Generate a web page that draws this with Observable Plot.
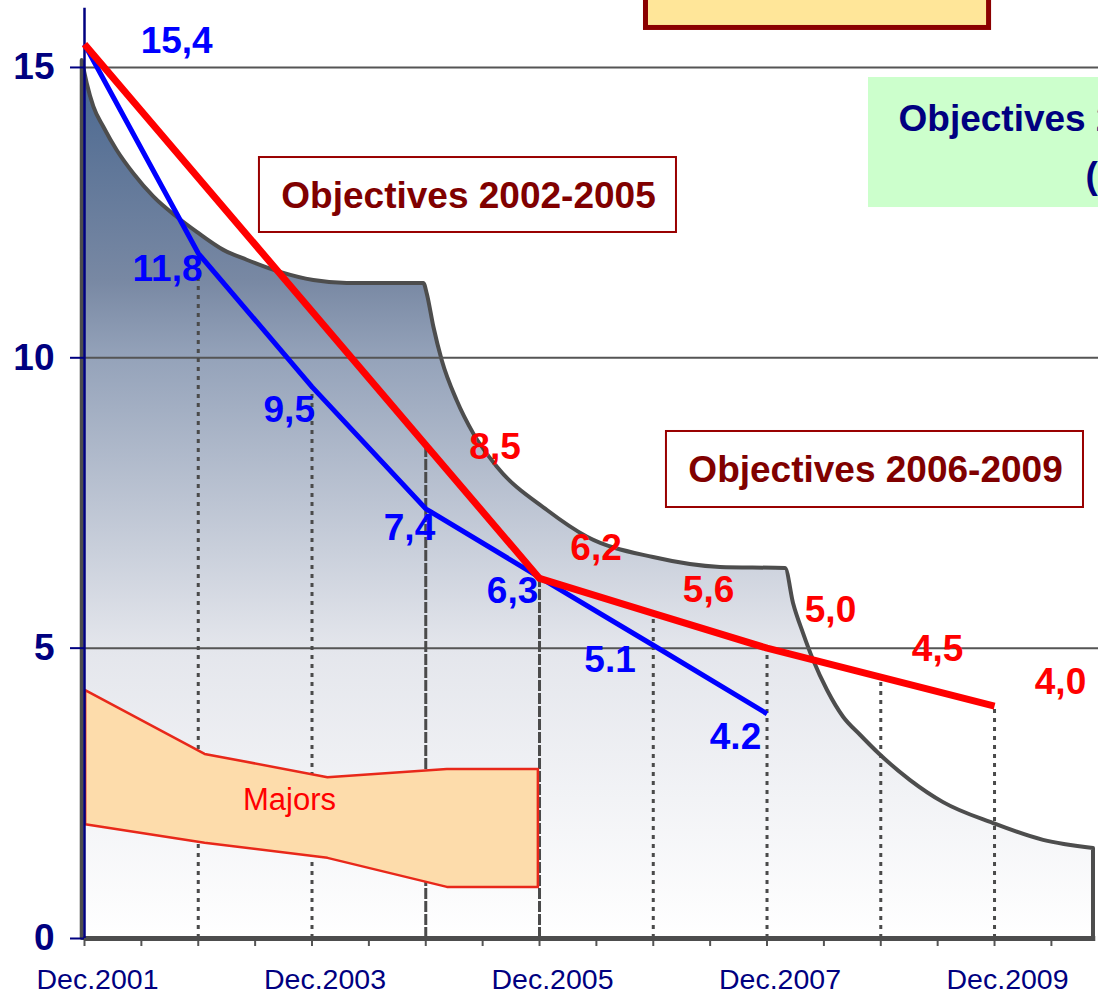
<!DOCTYPE html>
<html><head><meta charset="utf-8">
<script src="https://cdn.jsdelivr.net/npm/d3@7"></script>
<script src="https://cdn.jsdelivr.net/npm/@observablehq/plot@0.6"></script>
<style>
html,body{margin:0;padding:0;background:#fff;overflow:hidden;}
#chart svg{overflow:hidden;display:block}
</style></head><body><div id="chart"></div>
<script>
// x = years elapsed since Dec.2001
const tickYears = [0, 2, 4, 6, 8];
const tickLabels = ["Dec.2001", "Dec.2003", "Dec.2005", "Dec.2007", "Dec.2009"];
const halfYearTicks = [0,0.5,1,1.5,2,2.5,3,3.5,4,4.5,5,5.5,6,6.5,7,7.5,8,8.5];
const yTicks = [0, 5, 10, 15];

// actual (blue)
const actualX = [0, 1, 2, 3, 4, 5, 6];
const actualValues = [15.4, 11.8, 9.5, 7.4, 6.22, 5.05, 3.87];
const actualLabels = ["15,4", "11,8", "9,5", "7,4", "6,3", "5.1", "4.2"];
const actualLabelX = [0.81, 0.73, 1.80, 2.857, 3.763, 4.62, 5.723];
const actualLabelY = [15.46, 11.52, 9.09, 7.06, 5.99, 4.80, 3.46];

// objectives (red)
const objX = [0, 3, 4, 5, 6, 7, 8];
const objValues = [15.4, 8.5, 6.2, 5.6, 5.0, 4.5, 4.0];
const objLabels = ["8,5", "6,2", "5,6", "5,0", "4,5", "4,0"];
const objLabelX = [3.609, 4.497, 5.486, 6.558, 7.499, 8.58];
const objLabelY = [8.46, 6.72, 6.0, 5.65, 4.99, 4.42];

// dashed verticals
const dashX = [1, 2, 3, 4, 5, 6, 7, 8];
const dashTop = [11.8, 9.5, 8.5, 6.2, 5.6, 5.0, 4.5, 4.0];

// grey envelope
const envX = [-0.02, 0.024, 0.082, 0.170, 0.287, 0.433, 0.609, 0.815, 0.991, 1.225, 1.430, 1.723, 2.016, 2.31, 2.983,
              3.013, 3.071, 3.145, 3.276, 3.422, 3.628, 4.07, 4.422, 5.002, 5.591, 6.163,
              6.233, 6.321, 6.409, 6.532, 6.673, 6.822, 6.98, 7.262, 7.552, 7.991, 8.431, 8.87];
const envY = [15.12, 14.72, 14.32, 13.97, 13.57, 13.17, 12.77, 12.42, 12.16, 11.85, 11.68, 11.47, 11.33, 11.28, 11.28,
              11.10, 10.53, 9.95, 9.26, 8.69, 8.12, 7.37, 6.91, 6.56, 6.39, 6.37,
              5.77, 5.25, 4.79, 4.27, 3.81, 3.50, 3.19, 2.72, 2.34, 1.98, 1.69, 1.55];

// Majors band
const majorsX = [0.01, 1.06, 2.14, 3.19, 3.99];
const majorsLow = [1.96, 1.64, 1.38, 0.88, 0.88];
const majorsHigh = [4.27, 3.17, 2.77, 2.91, 2.91];

// annotation boxes (data coordinates)
const boxes = [
  {x1: 1.538, x2: 5.204, y1: 12.158, y2: 13.449},
  {x1: 5.116, x2: 8.782, y1: 7.422, y2: 8.731}
];
const boxTexts = ["Objectives 2002-2005", "Objectives 2006-2009"];
const boxTextX = [3.376, 6.954];
const boxTextY = [12.78, 8.06];

const greenBox = [{x1: 6.892, x2: 9.3, y1: 12.588, y2: 14.827}];
const greenLines = ["Objectives 2010-2013", "(proposal)"];
const greenX = [7.156, 8.80];
const greenY = [14.11, 13.12];

const yellowBox = [{x1: 4.936, x2: 7.952, y1: 15.68, y2: 17.5}];

const actual = actualX.map((x, i) => ({x, y: actualValues[i]}));
const objectives = objX.map((x, i) => ({x, y: objValues[i]}));
const envelope = envX.map((x, i) => ({x, y: envY[i]}));
const majors = majorsX.map((x, i) => ({x, lo: majorsLow[i], hi: majorsHigh[i]}));
const dashes = dashX.map((x, i) => ({x, top: dashTop[i]}));

const gradientDefs = () => {
  const defs = d3.create("svg:defs");
  const g = defs.append("linearGradient").attr("id", "envGrad")
    .attr("x1", 0).attr("y1", 0).attr("x2", 0).attr("y2", 1);
  [[0, "#48668f"], [0.25, "#7888a3"], [0.34, "#95a3ba"], [0.67, "#e4e6ec"], [1, "#ffffff"]]
    .forEach(([o, c]) => g.append("stop").attr("offset", o).attr("stop-color", c));
  return defs.node();
};

const font = "'Liberation Sans', Arial, Helvetica, sans-serif";
const navy = "#000080";

const chart = Plot.plot({
  width: 1098, height: 995,
  marginLeft: 84, marginRight: 0, marginTop: 0, marginBottom: 57,
  x: {domain: [0, 8.914], axis: null, label: null},
  y: {domain: [0, 16.153], axis: null, label: null},
  style: {fontFamily: font, background: "white", overflow: "hidden"},
  marks: [
    gradientDefs,
    Plot.rect(yellowBox, {x1: "x1", x2: "x2", y1: "y1", y2: "y2", fill: "#ffe699", stroke: "#8b0000", strokeWidth: 5}),
    Plot.areaY(envelope, {x: "x", y1: 0, y2: "y", fill: "url(#envGrad)", stroke: "#4d4d4d", strokeWidth: 4, curve: "monotone-x"}),
    Plot.ruleY([5, 10, 15], {stroke: "#555555", strokeWidth: 2}),
    Plot.ruleX(dashes.filter(d => d.x === 3 || d.x === 4), {x: "x", y1: 0, y2: "top", stroke: "#4a4a4a", strokeWidth: 3, strokeDasharray: "11,2"}),
    Plot.ruleX(dashes.filter(d => !(d.x === 3 || d.x === 4)), {x: "x", y1: 0, y2: "top", stroke: "#4a4a4a", strokeWidth: 3, strokeDasharray: "4,5"}),
    Plot.areaY(majors, {x: "x", y1: "lo", y2: "hi", fill: "#fddcab", stroke: "#e8281a", strokeWidth: 2.5, curve: "linear"}),
    Plot.text(["Majors"], {x: 1.802, y: 2.38, text: d => d, fill: "#ff0000", fontSize: 31}),
    Plot.axisX({ticks: halfYearTicks, tickSize: 8, tickFormat: () => "", stroke: "#555555", strokeWidth: 2, label: null}),
    Plot.axisX({ticks: tickYears, tickSize: 0, tickPadding: 30, dx: 13, tickFormat: d => tickLabels[tickYears.indexOf(d)], fill: navy, fontSize: 28.5, label: null}),
    Plot.ruleY([0], {x1: 0, x2: 8.89, stroke: "#4d4d4d", strokeWidth: 5}),
    Plot.axisY({ticks: yTicks, tickSize: 14, tickPadding: 16, stroke: navy, strokeWidth: 2, fill: navy, fontSize: 37, fontWeight: "bold", label: null}),
    Plot.ruleX([0], {y1: 0, y2: 16.02, stroke: navy, strokeWidth: 2.5}),
    Plot.line(actual, {x: "x", y: "y", stroke: "#0000ff", strokeWidth: 5, strokeLinecap: "butt"}),
    Plot.line(objectives, {x: "x", y: "y", stroke: "#ff0000", strokeWidth: 7, strokeLinecap: "butt"}),
    Plot.text(actualLabels, {x: (d, i) => actualLabelX[i], y: (d, i) => actualLabelY[i], text: d => d, fill: "#0000ff", fontSize: 37, fontWeight: "bold"}),
    Plot.text(objLabels, {x: (d, i) => objLabelX[i], y: (d, i) => objLabelY[i], text: d => d, fill: "#ff0000", fontSize: 37, fontWeight: "bold"}),
    Plot.rect(boxes, {x1: "x1", x2: "x2", y1: "y1", y2: "y2", fill: "#ffffff", stroke: "#990000", strokeWidth: 2}),
    Plot.text(boxTexts, {x: (d, i) => boxTextX[i], y: (d, i) => boxTextY[i], text: d => d, fill: "#800000", fontSize: 37, fontWeight: "bold"}),
    Plot.rect(greenBox, {x1: "x1", x2: "x2", y1: "y1", y2: "y2", fill: "#ccffcc"}),
    Plot.text(greenLines, {x: (d, i) => greenX[i], y: (d, i) => greenY[i], text: d => d, fill: navy, fontSize: 37, fontWeight: "bold", textAnchor: "start"})
  ]
});
document.getElementById("chart").appendChild(chart);
</script>
</body></html>
